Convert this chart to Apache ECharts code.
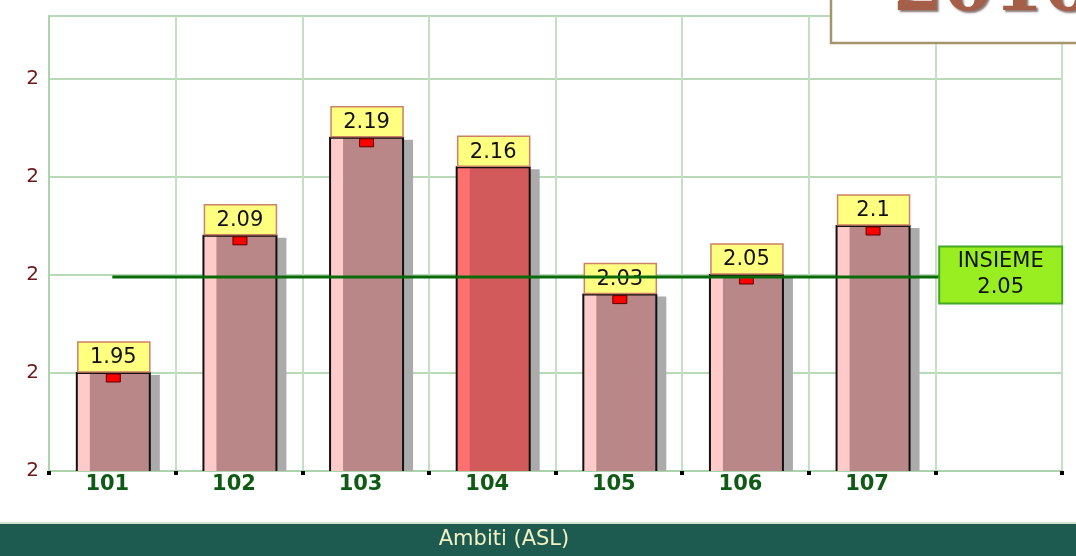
<!DOCTYPE html>
<html>
<head>
<meta charset="utf-8">
<script src="https://cdn.jsdelivr.net/npm/echarts@6/dist/echarts.min.js"></script>
<style>
html,body{margin:0;padding:0;background:#fff;}
#chart{width:1076px;height:556px;}
</style>
</head>
<body>
<div id="chart"></div>
<script>
// ---- data ----
const categories = ['101', '102', '103', '104', '105', '106', '107', ''];
const values = [1.95, 2.09, 2.19, 2.16, 2.03, 2.05, 2.1];
const valueLabels = ['1.95', '2.09', '2.19', '2.16', '2.03', '2.05', '2.1'];
const overallValue = 2.048;
const overallLabel = 'INSIEME\n2.05';
const selectedCategory = '104';
const yTickLabels = ['2', '2', '2', '2', '2'];
const xAxisTitle = 'Ambiti (ASL)';
const yearTitle = '2010';

const Y_MIN = 1.85, Y_MAX = 2.3143;

const chart = echarts.init(document.getElementById('chart'), null, {renderer: 'canvas'});

const barData = values.map((v, i) => [i, v, valueLabels[i], categories[i] === selectedCategory ? 1 : 0]);
const lineData = categories.map((c, i) => i === categories.length - 1
  ? {value: overallValue, label: {show: true}}
  : {value: overallValue});

function renderBar(params, api) {
  const idx = api.value(0);
  const v = api.value(1);
  const sel = api.value(3) === 1;
  const top = api.coord([idx, v]);
  const base = api.coord([idx, Y_MIN]);
  const band = api.size([1, 0])[0];
  const bw = Math.round(band * 0.575);
  const cx = top[0] + 1;
  const left = cx - bw / 2;
  const right = cx + bw / 2;
  const h = base[1] - top[1];
  const main = sel ? '#d35a5a' : '#b98787';
  const strip = sel ? '#ff7070' : '#ffcaca';
  const children = [
    {type: 'rect', shape: {x: right, y: top[1] + 2, width: 10, height: h - 2}, style: {fill: '#ababab'}},
    {type: 'rect', shape: {x: left, y: top[1], width: bw, height: h}, style: {fill: main}},
    {type: 'rect', shape: {x: left, y: top[1], width: 13, height: h}, style: {fill: strip}},
    {type: 'polyline', shape: {points: [[left, base[1]], [left, top[1]], [right, top[1]], [right, base[1]]]},
      style: {stroke: '#111', lineWidth: 2, fill: null}}
  ];
  if (!sel) {
    children.push({type: 'rect', shape: {x: cx - 7, y: top[1] + 1, width: 14, height: 8},
      style: {fill: '#ff0000', stroke: '#5a0000', lineWidth: 1}});
  }
  children.push({type: 'rect', shape: {x: left + 1, y: top[1] - 31, width: bw - 1, height: 30},
    style: {fill: '#ffff80', stroke: '#cc8066', lineWidth: 1.5}});
  children.push({type: 'text', x: cx, y: top[1] - 15,
    style: {text: api.value(2), font: '21px "DejaVu Sans"', fill: '#111', align: 'center', verticalAlign: 'middle'}});
  return {type: 'group', children: children};
}

const option = {
  animation: false,
  backgroundColor: '#ffffff',
  grid: {left: 49, right: 14, top: 16, bottom: 85, show: true, borderColor: '#acd4ac', borderWidth: 2, backgroundColor: 'transparent'},
  xAxis: {
    type: 'category',
    data: categories,
    boundaryGap: true,
    axisLine: {show: true, lineStyle: {color: '#acd4ac', width: 2}},
    axisTick: {show: true, length: 4, lineStyle: {color: '#000', width: 4}},
    splitLine: {show: true, lineStyle: {color: '#c4e0c4', width: 2}},
    axisLabel: {margin: 3, color: '#0f5a14', fontWeight: 'bold', fontSize: 21, fontFamily: 'DejaVu Sans',
      align: 'center', padding: [0, 10, 0, 0]}
  },
  yAxis: {
    type: 'value',
    min: Y_MIN,
    max: Y_MAX,
    interval: 0.1,
    axisLine: {show: true, lineStyle: {color: '#acd4ac', width: 2}},
    axisTick: {show: false},
    splitLine: {show: true, lineStyle: {color: '#b8dab8', width: 2}},
    axisLabel: {margin: 10, color: '#6b1a1a', fontSize: 20, fontFamily: 'DejaVu Sans',
      formatter: (v, i) => (yTickLabels[i] !== undefined ? yTickLabels[i] : '')}
  },
  series: [
    {
      type: 'custom',
      z: 2,
      renderItem: renderBar,
      data: barData,
      encode: {x: 0, y: 1}
    },
    {
      type: 'line',
      z: 3,
      data: lineData,
      symbol: 'circle',
      symbolSize: 0,
      lineStyle: {color: '#0a6a0a', width: 3},
      label: {
        show: false,
        position: 'inside',
        formatter: overallLabel,
        backgroundColor: '#99ee22',
        borderColor: '#44a822',
        borderWidth: 2,
        width: 121,
        height: 55,
        lineHeight: 26,
        align: 'center',
        verticalAlign: 'middle',
        color: '#111',
        fontSize: 21,
        fontFamily: 'DejaVu Sans',
        offset: [2, -2]
      }
    }
  ],
  graphic: [
    {type: 'rect', left: 0, top: 522, shape: {width: 1076, height: 2}, style: {fill: '#cfe3cb'}, z: 10},
    {type: 'rect', left: 0, top: 524, shape: {width: 1076, height: 32}, style: {fill: '#1d5b50'}, z: 10},
    {type: 'text', x: 504, y: 540, z: 11,
      style: {text: xAxisTitle, font: '21px "DejaVu Sans"', fill: '#f2f2c4', align: 'center', verticalAlign: 'middle'}},
    {type: 'rect', x: 831, y: -10, z: 20, shape: {width: 260, height: 53},
      style: {fill: '#ffffff', stroke: '#a8946c', lineWidth: 2.5}},
    {type: 'text', x: 893, y: -45, z: 21,
      style: {text: yearTitle, font: 'bold 72px "DejaVu Serif"', fill: '#a55f49', align: 'left', verticalAlign: 'top',
        textShadowColor: 'rgba(60,30,20,0.6)', textShadowOffsetX: 2, textShadowOffsetY: 2, textShadowBlur: 2}}
  ]
};
chart.setOption(option);
</script>
</body>
</html>
